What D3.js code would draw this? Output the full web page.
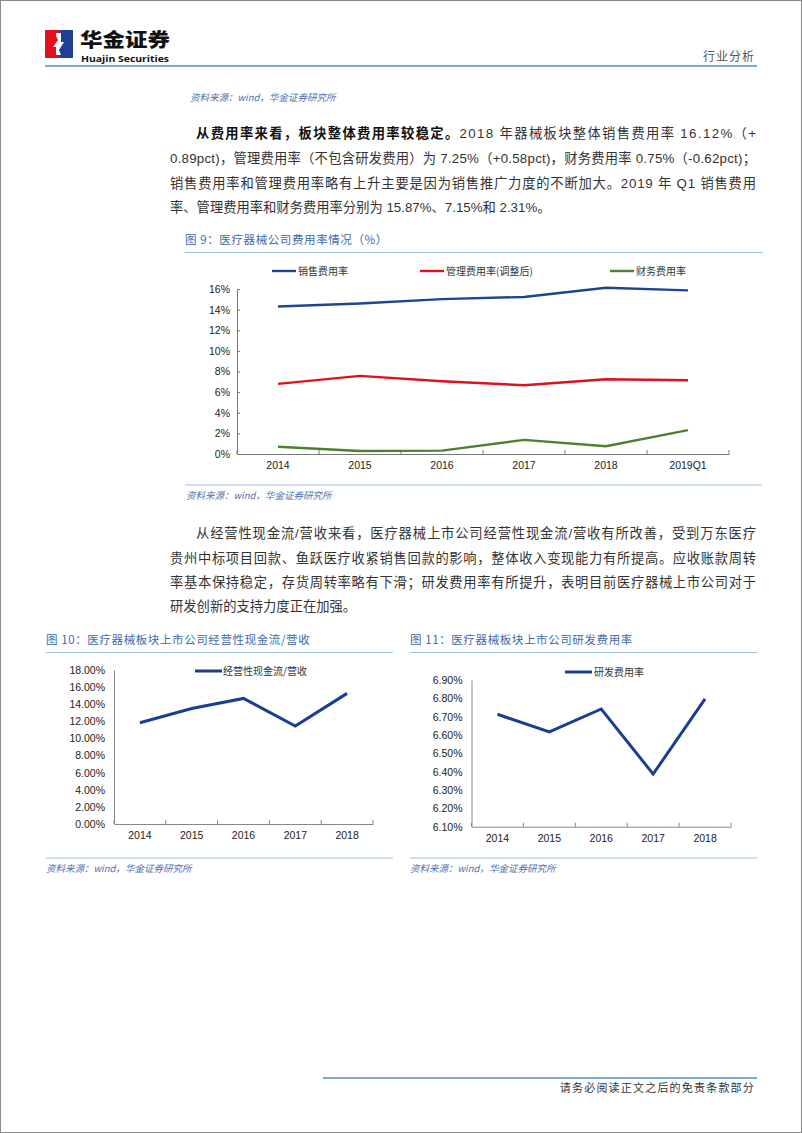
<!DOCTYPE html>
<html><head><meta charset="utf-8">
<script src="https://cdn.jsdelivr.net/npm/d3@7"></script>
<style>
html,body{margin:0;padding:0;background:#fff;}
svg{display:block;}
</style></head>
<body>
<svg id="page" width="802" height="1133"></svg>
<script>
// ---- Data ----
const fig9Categories = ["2014","2015","2016","2017","2018","2019Q1"];
const fig9Sales = [14.31, 14.6, 15.02, 15.23, 16.12, 15.87];
const fig9Admin = [6.8, 7.58, 7.05, 6.67, 7.25, 7.15];
const fig9Finance = [0.71, 0.29, 0.33, 1.37, 0.75, 2.31];
const fig9SeriesNames = ["销售费用率", "管理费用率(调整后)", "财务费用率"];
const fig9YTicks = [0,2,4,6,8,10,12,14,16];

const fig10Categories = ["2014","2015","2016","2017","2018"];
const fig10Values = [11.84, 13.5, 14.68, 11.45, 15.27];
const fig10SeriesName = "经营性现金流/营收";
const fig10YTicks = [0,2,4,6,8,10,12,14,16,18];

const fig11Categories = ["2014","2015","2016","2017","2018"];
const fig11Values = [6.713, 6.617, 6.742, 6.387, 6.797];
const fig11SeriesName = "研发费用率";
const fig11YTicks = [6.1,6.2,6.3,6.4,6.5,6.6,6.7,6.8,6.9];

// ---- Styles ----
const LATIN = "'Liberation Sans', Arial, 'Noto Sans CJK SC', sans-serif";
const CJK = "'Noto Sans CJK SC', 'Liberation Sans', sans-serif";
const TITLE_COLOR = "#3f6aa8";
const SRC_COLOR = "#4f70b0";
const RULE_COLOR = "#9dbfdf";

const svg = d3.select("#page");

// page frame
svg.append("rect").attr("x",0.5).attr("y",0.5).attr("width",801).attr("height",1132)
  .attr("fill","none").attr("stroke","#8a8a8a").attr("stroke-width",1);

// ---- Header ----
const logo = svg.append("g");
logo.append("rect").attr("x",45).attr("y",30).attr("width",14).attr("height",28).attr("fill","#e3101e");
logo.append("rect").attr("x",59).attr("y",30).attr("width",14).attr("height",28).attr("fill","#1e3f94");
logo.append("path").attr("d","M56,33 L61,33 L61,42 L64,42 L59,50 L61,55 L56,55 L56,47 L53,47 L58,40 L56,36 Z").attr("fill","#fff");
svg.append("text").attr("x",80).attr("y",46.5).attr("font-family",CJK).attr("font-weight","900")
  .attr("font-size",19).attr("fill","#111").attr("textLength",90).attr("lengthAdjust","spacingAndGlyphs").text("华金证券");
svg.append("text").attr("x",81).attr("y",62).attr("font-family","'Open Sans','DejaVu Sans',sans-serif").attr("font-weight","700")
  .attr("font-size",9).attr("fill","#111").attr("textLength",88).attr("lengthAdjust","spacingAndGlyphs").text("Huajin Securities");
svg.append("text").attr("x",755).attr("y",61).attr("text-anchor","end").attr("font-family",CJK)
  .attr("font-size",12).attr("fill","#555").attr("letter-spacing",1).text("行业分析");
svg.append("line").attr("x1",45).attr("x2",757).attr("y1",66).attr("y2",66).attr("stroke","#4a8fc7").attr("stroke-width",1.6);

function source(x,y){
  svg.append("text").attr("x",x).attr("y",y).attr("font-family",CJK).attr("font-style","italic")
    .attr("font-size",9.5).attr("fill",SRC_COLOR).text("资料来源：wind，华金证券研究所");
}
source(190,101);

// ---- Paragraph text ----
function para(lines){
  lines.forEach(l=>{
    const t = svg.append("text").attr("x",l.x).attr("y",l.y).attr("font-family",LATIN)
      .attr("font-size",13.3).attr("fill","#333");
    if(l.w) t.attr("textLength",l.w).attr("lengthAdjust","spacing");
    l.parts.forEach(p=>{
      const s = t.append("tspan").text(p.t);
      if(p.b){ s.attr("font-weight","700").attr("fill","#111"); }
    });
  });
}
para([
  {x:196,y:138,w:560,parts:[{t:"从费用率来看，板块整体费用率较稳定。",b:true},{t:"2018 年器械板块整体销售费用率 16.12%（+"}]},
  {x:170,y:163,w:586,parts:[{t:"0.89pct)，管理费用率（不包含研发费用）为 7.25%（+0.58pct)，财务费用率 0.75%（-0.62pct)；"}]},
  {x:170,y:188,w:586,parts:[{t:"销售费用率和管理费用率略有上升主要是因为销售推广力度的不断加大。2019 年 Q1 销售费用"}]},
  {x:170,y:212,parts:[{t:"率、管理费用率和财务费用率分别为 15.87%、7.15%和 2.31%。"}]}
]);
para([
  {x:196,y:538,w:560,parts:[{t:"从经营性现金流/营收来看，医疗器械上市公司经营性现金流/营收有所改善，受到万东医疗"}]},
  {x:170,y:563,w:586,parts:[{t:"贵州中标项目回款、鱼跃医疗收紧销售回款的影响，整体收入变现能力有所提高。应收账款周转"}]},
  {x:170,y:587,w:586,parts:[{t:"率基本保持稳定，存货周转率略有下滑；研发费用率有所提升，表明目前医疗器械上市公司对于"}]},
  {x:170,y:611,parts:[{t:"研发创新的支持力度正在加强。"}]}
]);

function figTitle(x,y,x2,label){
  svg.append("text").attr("x",x).attr("y",y).attr("font-family",CJK).attr("font-size",11.5)
    .attr("fill",TITLE_COLOR).attr("letter-spacing",0.6).text(label);
  svg.append("line").attr("x1",x).attr("x2",x2).attr("y1",y+8.5).attr("y2",y+8.5).attr("stroke",RULE_COLOR).attr("stroke-width",1);
}
function rule(x1,x2,y){
  svg.append("line").attr("x1",x1).attr("x2",x2).attr("y1",y).attr("y2",y).attr("stroke",RULE_COLOR).attr("stroke-width",1.2);
}

// ---- Figure 9 ----
figTitle(185,244,763,"图 9：医疗器械公司费用率情况（%）");
{
  const x = d3.scaleBand().domain(fig9Categories).range([237,729]);
  const y = d3.scaleLinear().domain([0,16]).range([454,289]);
  const g = svg.append("g");
  const xa = g.append("g").attr("transform","translate(0,454)")
    .call(d3.axisBottom(x).tickSize(0).tickPadding(8));
  xa.select(".domain").attr("stroke","#777");
  xa.selectAll("text").attr("font-family",LATIN).attr("font-size",10.5).attr("fill","#222");
  const edges = fig9Categories.map(c=>x(c)).concat([x.range()[1]]);
  g.selectAll(".xt").data(edges).join("line").attr("x1",d=>d).attr("x2",d=>d)
    .attr("y1",454).attr("y2",450).attr("stroke","#777");
  const ya = g.append("g").attr("transform","translate(237,0)")
    .call(d3.axisLeft(y).tickValues(fig9YTicks).tickFormat(d=>d+"%").tickSizeInner(-3).tickSizeOuter(0).tickPadding(7));
  ya.select(".domain").attr("stroke","#777");
  ya.selectAll(".tick line").attr("stroke","#777");
  ya.selectAll("text").attr("font-family",LATIN).attr("font-size",10.5).attr("fill","#222");
  const series = [fig9Sales, fig9Admin, fig9Finance];
  const colors = ["#1d4595","#e0101c","#4f7f30"];
  const line = d3.line().x((d,i)=>x(fig9Categories[i])+x.bandwidth()/2).y(d=>y(d));
  series.forEach((s,i)=>{
    g.append("path").attr("d",line(s)).attr("fill","none").attr("stroke",colors[i]).attr("stroke-width",2.4);
  });
  const legX = [272,420,610];
  fig9SeriesNames.forEach((n,i)=>{
    g.append("line").attr("x1",legX[i]).attr("x2",legX[i]+24).attr("y1",271).attr("y2",271)
      .attr("stroke",colors[i]).attr("stroke-width",2.4);
    g.append("text").attr("x",legX[i]+26).attr("y",275).attr("font-family",CJK).attr("font-size",10)
      .attr("fill","#333").text(n);
  });
}
rule(185,762,485);
source(186,499);

// ---- Figure 10 ----
figTitle(46,644,393,"图 10：医疗器械板块上市公司经营性现金流/营收");
{
  const x = d3.scaleBand().domain(fig10Categories).range([114,373]);
  const y = d3.scaleLinear().domain([0,18]).range([824,670]);
  const g = svg.append("g");
  const xa = g.append("g").attr("transform","translate(0,824)")
    .call(d3.axisBottom(x).tickSize(0).tickPadding(8));
  xa.select(".domain").attr("stroke","#888");
  xa.selectAll("text").attr("font-family",LATIN).attr("font-size",10.5).attr("fill","#222");
  const edges = fig10Categories.map(c=>x(c)).concat([x.range()[1]]);
  g.selectAll(".xt").data(edges).join("line").attr("x1",d=>d).attr("x2",d=>d)
    .attr("y1",824).attr("y2",820).attr("stroke","#888");
  const ya = g.append("g").attr("transform","translate(114,0)")
    .call(d3.axisLeft(y).tickValues(fig10YTicks).tickFormat(d=>d.toFixed(2)+"%").tickSize(0).tickPadding(9));
  ya.select(".domain").attr("stroke","#888");
  ya.selectAll("text").attr("font-family",LATIN).attr("font-size",10.5).attr("fill","#222");
  const line = d3.line().x((d,i)=>x(fig10Categories[i])+x.bandwidth()/2).y(d=>y(d));
  g.append("path").attr("d",line(fig10Values)).attr("fill","none").attr("stroke","#1b3e93").attr("stroke-width",3);
  g.append("line").attr("x1",195).attr("x2",222).attr("y1",671).attr("y2",671).attr("stroke","#1b3e93").attr("stroke-width",3);
  g.append("text").attr("x",223).attr("y",675).attr("font-family",CJK).attr("font-size",10).attr("fill","#333").text(fig10SeriesName);
}
rule(46,393,858);
source(46,872);

// ---- Figure 11 ----
figTitle(410,644,757,"图 11：医疗器械板块上市公司研发费用率");
{
  const x = d3.scaleBand().domain(fig11Categories).range([471.5,731]);
  const y = d3.scaleLinear().domain([6.1,6.9]).range([826.7,680]);
  const g = svg.append("g");
  const xa = g.append("g").attr("transform","translate(0,826.7)")
    .call(d3.axisBottom(x).tickSize(0).tickPadding(8));
  xa.select(".domain").attr("stroke","#888");
  xa.selectAll("text").attr("font-family",LATIN).attr("font-size",10.5).attr("fill","#222");
  const edges = fig11Categories.map(c=>x(c)).concat([x.range()[1]]);
  g.selectAll(".xt").data(edges).join("line").attr("x1",d=>d).attr("x2",d=>d)
    .attr("y1",826.7).attr("y2",822.7).attr("stroke","#888");
  const ya = g.append("g").attr("transform","translate(471.5,0)")
    .call(d3.axisLeft(y).tickValues(fig11YTicks).tickFormat(d=>d.toFixed(2)+"%").tickSize(0).tickPadding(9));
  ya.select(".domain").attr("stroke","#888");
  ya.selectAll("text").attr("font-family",LATIN).attr("font-size",10.5).attr("fill","#222");
  const line = d3.line().x((d,i)=>x(fig11Categories[i])+x.bandwidth()/2).y(d=>y(d));
  g.append("path").attr("d",line(fig11Values)).attr("fill","none").attr("stroke","#1b3e93").attr("stroke-width",3);
  g.append("line").attr("x1",565).attr("x2",592).attr("y1",672).attr("y2",672).attr("stroke","#1b3e93").attr("stroke-width",3);
  g.append("text").attr("x",594).attr("y",676).attr("font-family",CJK).attr("font-size",10).attr("fill","#333").text(fig11SeriesName);
}
rule(410,757,858);
source(410,872);

// ---- Footer ----
svg.append("line").attr("x1",323).attr("x2",757).attr("y1",1078).attr("y2",1078).attr("stroke","#4a8fc7").attr("stroke-width",1.4);
svg.append("text").attr("x",755).attr("y",1092).attr("text-anchor","end").attr("font-family",CJK)
  .attr("font-size",11).attr("fill","#333").attr("letter-spacing",1.2).text("请务必阅读正文之后的免责条款部分");
</script>
</body></html>
